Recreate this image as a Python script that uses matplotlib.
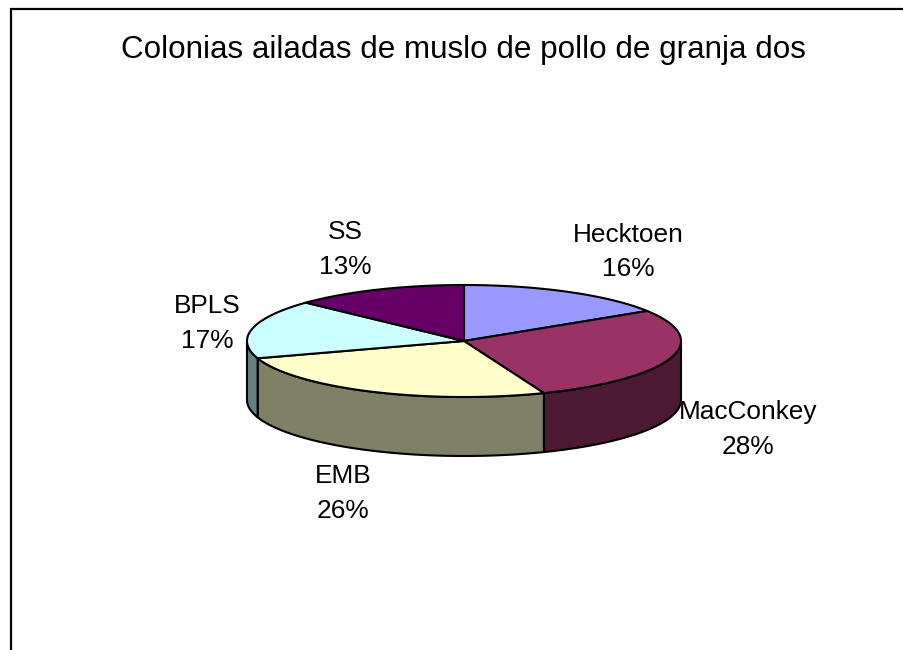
import numpy as np
import matplotlib
matplotlib.use('Agg')
import matplotlib.pyplot as plt
from matplotlib.patches import Polygon

plt.rcParams['font.family'] = ['Liberation Sans', 'DejaVu Sans']

# Datos del grafico
categorias = ['Hecktoen', 'MacConkey', 'EMB', 'BPLS', 'SS']
porcentajes = [16, 28, 26, 17, 13]
titulo = 'Colonias ailadas de muslo de pollo de granja dos'

colores = ['#9999FF', '#993366', '#FFFFCC', '#CCFFFF', '#660066']
colores_lado = ['#4D4D80', '#4D1A33', '#808066', '#668080', '#330033']

# Geometria de la torta en pixeles
cx, cy = 464, 341
rx, ry = 217, 56
alto = 59

# Posicion de cada etiqueta (centro en x, linea base del nombre en y)
pos_etiquetas = [(628, 242), (748, 419), (343, 483), (207, 313), (345, 239)]
salto_linea = 34.5

fig = plt.figure(figsize=(9.04, 6.5), dpi=100)
ax = fig.add_axes([0, 0, 1, 1])
ax.set_xlim(0, 904)
ax.set_ylim(650, 0)
ax.axis('off')


def borde(a0, a1):
    # angulos en grados desde las 12, en sentido horario
    t = np.radians(np.linspace(a0, a1, 120))
    return cx + rx * np.sin(t), cy - ry * np.cos(t)


# Marco del grafico: solo izquierda y arriba
ax.plot([11, 11, 904], [650, 9.3, 9.3], color='black', lw=1.6, solid_joinstyle='miter')

fracciones = np.cumsum([0] + porcentajes) / sum(porcentajes) * 360

# Paredes laterales: solo la parte visible (mitad inferior de la elipse)
for i in range(len(categorias)):
    a0 = max(fracciones[i], 90)
    a1 = min(fracciones[i + 1], 270)
    if a1 <= a0:
        continue
    x, y = borde(a0, a1)
    xy = np.r_[np.c_[x, y], np.c_[x[::-1], y[::-1] + alto]]
    ax.add_patch(Polygon(xy, closed=True, fc=colores_lado[i], ec='black', lw=1.5, joinstyle='round', zorder=2))

# Cara superior
for i in range(len(categorias)):
    x, y = borde(fracciones[i], fracciones[i + 1])
    xy = np.r_[[[cx, cy]], np.c_[x, y]]
    ax.add_patch(Polygon(xy, closed=True, fc=colores[i], ec='black', lw=1.5, joinstyle='round', zorder=3))

# Etiquetas
for nombre, valor, (px, py) in zip(categorias, porcentajes, pos_etiquetas):
    ax.text(px, py, nombre, ha='center', va='baseline', fontsize=18.9, color='black')
    ax.text(px, py + salto_linea, f'{valor}%', ha='center', va='baseline', fontsize=18.9, color='black')

ax.text(463.5, 58, titulo, ha='center', va='baseline', fontsize=22.55, color='black')

fig.savefig('out.png', dpi=100, facecolor='white')
plt.close(fig)
